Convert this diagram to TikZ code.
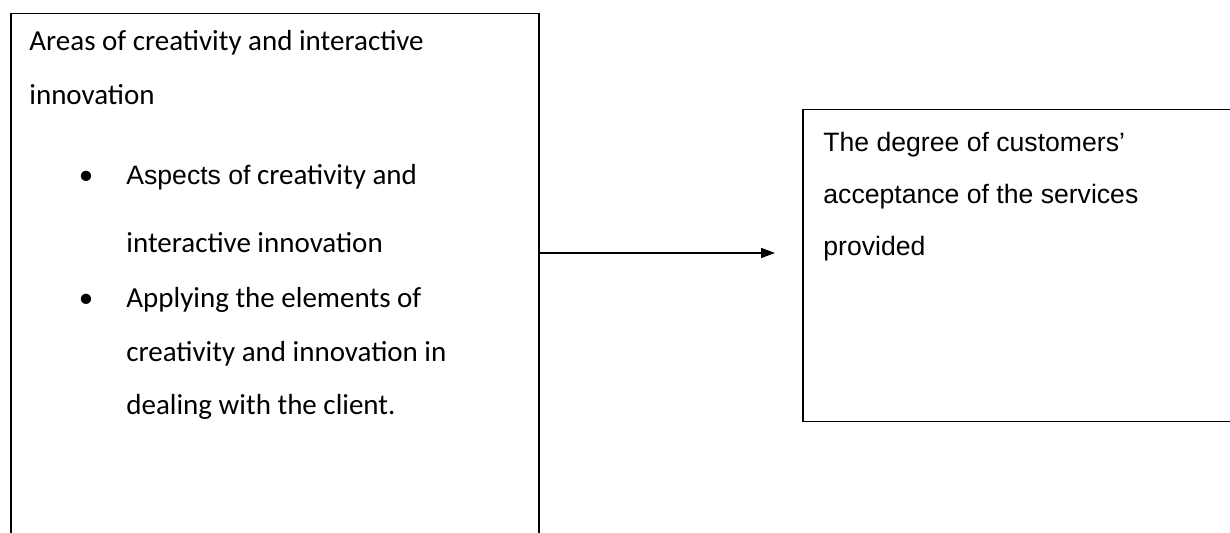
\documentclass[tikz,border=0pt]{standalone}
\usepackage{fontspec}
\setmainfont{Carlito}
\newfontfamily\arialfont{Liberation Sans}
\usetikzlibrary{arrows.meta}

\tikzset{
    frame/.style={draw, rectangle, line width=0.75pt, inner sep=0pt, anchor=north west},
    cline/.style={anchor=base west, inner sep=0pt, font=\fontsize{14.5}{17}\selectfont},
    aline/.style={anchor=base west, inner sep=0pt, font=\arialfont\fontsize{13.3}{16}\selectfont},
    dot/.style={anchor=base, inner sep=0pt, font=\fontsize{14.5}{17}\selectfont},
    link/.style={line width=0.75pt, -{Triangle[length=7pt,width=5pt]}}
}

\begin{document}
\begin{tikzpicture}[x=0.5pt,y=-0.5pt]
        \useasboundingbox (0,0) rectangle (1230,533);
        \clip (0,0) rectangle (1230,533);
        % boxes
        \node[frame, minimum width=264pt, minimum height=275pt](A) at (10,13)  {};
        \node[frame, minimum width=230pt, minimum height=156pt](B) at (802,109) {};
        % left text
        \node[cline](A1) at (29,51)  {Areas of creativity and interactive};
        \node[cline](A2) at (29,105) {innovation};
        \node[dot]  (D1) at (86,185) {•};
        \node[cline](A3) at (126,185) {{\arialfont\fontsize{13.3}{16}\selectfont Aspects of} creativity and};
        \node[cline](A4) at (126,253) {interactive innovation};
        \node[dot]  (D2) at (86,308) {•};
        \node[cline](A5) at (126,308) {Applying the elements of};
        \node[cline](A6) at (126,362) {creativity and innovation in};
        \node[cline](A7) at (126,415) {dealing with the client.};
        % right text
        \node[aline](B1) at (823,152) {The degree of customers’};
        \node[aline](B2) at (823,204) {acceptance of the services};
        \node[aline](B3) at (823,256) {provided};
        % arrow
        \coordinate (T) at (775,253);
        \draw[link] (A.east |- T) -- (T);
    \end{tikzpicture}
\end{document}
